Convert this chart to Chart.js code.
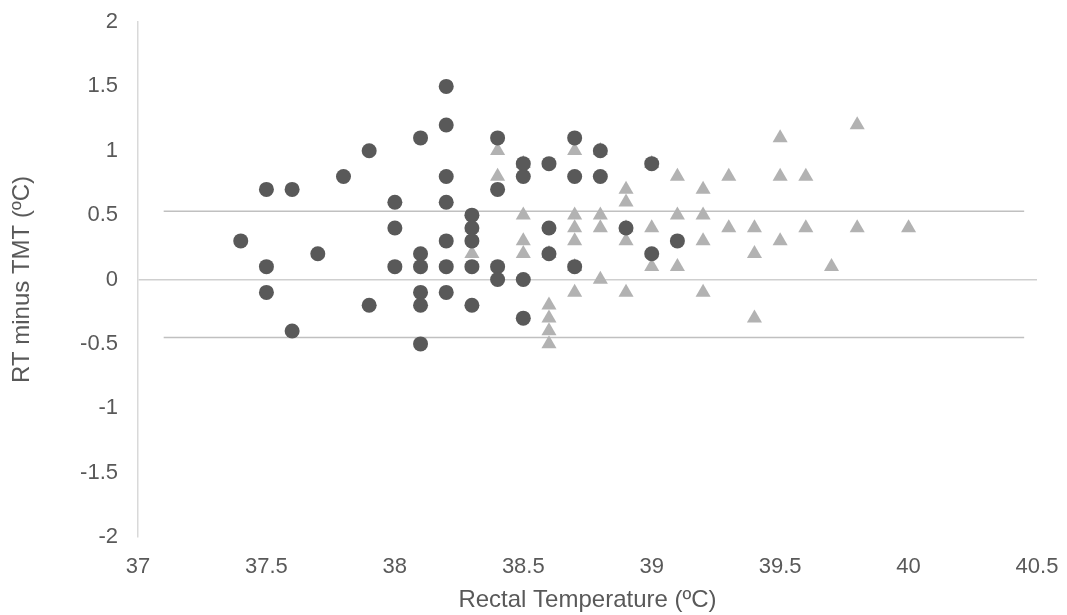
<!DOCTYPE html>
<html>
<head>
<meta charset="utf-8">
<script src="https://cdn.jsdelivr.net/npm/chart.js@4"></script>
<style>
  html, body { margin: 0; padding: 0; background: #fff; }
</style>
</head>
<body>
<canvas id="myChart" width="1067" height="615"></canvas>
<script>
// Rectal temperature (x) vs RT minus TMT (y)
var circleX = [37.4, 37.5, 37.5, 37.5, 37.6, 37.6, 37.7, 37.8, 37.9, 37.9,
    38.0, 38.0, 38.0, 38.1, 38.1, 38.1, 38.1, 38.1, 38.1,
    38.2, 38.2, 38.2, 38.2, 38.2, 38.2, 38.2,
    38.3, 38.3, 38.3, 38.3, 38.3, 38.4, 38.4, 38.4, 38.4,
    38.5, 38.5, 38.5, 38.5, 38.6, 38.6, 38.6, 38.7, 38.7, 38.7,
    38.8, 38.8, 38.9, 39.0, 39.0, 39.1];
var circleY = [0.3, 0.7, 0.1, -0.1, 0.7, -0.4, 0.2, 0.8, 1.0, -0.2,
    0.6, 0.4, 0.1, 1.1, 0.2, 0.1, -0.1, -0.2, -0.5,
    1.5, 1.2, 0.8, 0.6, 0.3, 0.1, -0.1,
    0.5, 0.4, 0.3, 0.1, -0.2, 1.1, 0.7, 0.1, 0.0,
    0.9, 0.8, 0.0, -0.3, 0.9, 0.4, 0.2, 1.1, 0.8, 0.1,
    1.0, 0.8, 0.4, 0.9, 0.2, 0.3];

var triangleX = [38.3, 38.3, 38.4, 38.4, 38.5, 38.5, 38.5, 38.5,
    38.6, 38.6, 38.6, 38.6, 38.6,
    38.7, 38.7, 38.7, 38.7, 38.7, 38.7,
    38.8, 38.8, 38.8, 38.8,
    38.9, 38.9, 38.9, 38.9, 38.9,
    39.0, 39.0, 39.0, 39.1, 39.1, 39.1,
    39.2, 39.2, 39.2, 39.2, 39.3, 39.3, 39.4, 39.4, 39.4,
    39.5, 39.5, 39.5, 39.6, 39.6, 39.7, 39.8, 39.8, 40.0];
var triangleY = [0.4, 0.2, 1.0, 0.8, 0.9, 0.5, 0.3, 0.2,
    0.2, -0.2, -0.3, -0.4, -0.5,
    1.0, 0.5, 0.4, 0.3, 0.1, -0.1,
    1.0, 0.5, 0.4, 0.0,
    0.7, 0.6, 0.4, 0.3, -0.1,
    0.9, 0.4, 0.1, 0.8, 0.5, 0.1,
    0.7, 0.5, 0.3, -0.1, 0.8, 0.4, 0.4, 0.2, -0.3,
    1.1, 0.8, 0.3, 0.8, 0.4, 0.1, 1.2, 0.4, 0.4];

// limits of agreement
var limitX = [37.1, 40.45];
var upperLimit = 0.53;
var lowerLimit = -0.45;

var xTicks = [37, 37.5, 38, 38.5, 39, 39.5, 40, 40.5];
var yTicks = [-2, -1.5, -1, -0.5, 0, 0.5, 1, 1.5, 2];

function pairs(xs, ys) {
    return xs.map(function (x, i) { return { x: x, y: ys[i] }; });
}

var textColor = '#595959';
var font = { family: '"Liberation Sans", Arial, sans-serif', size: 22 };
var titleFont = { family: '"Liberation Sans", Arial, sans-serif', size: 24 };

var data = {
    datasets: [{
        label: 'circles',
        data: pairs(circleX, circleY),
        pointStyle: 'circle',
        pointRadius: 7.5,
        backgroundColor: '#595959',
        borderColor: '#595959',
        borderWidth: 0
    }, {
        label: 'triangles',
        data: pairs(triangleX, triangleY),
        pointStyle: 'triangle',
        pointRadius: 8.7,
        backgroundColor: '#b2b2b2',
        borderColor: '#b2b2b2',
        borderWidth: 0
    }, {
        label: 'upper',
        data: pairs(limitX, [upperLimit, upperLimit]),
        showLine: true,
        pointRadius: 0,
        borderColor: '#c0c0c0',
        borderWidth: 1.5
    }, {
        label: 'lower',
        data: pairs(limitX, [lowerLimit, lowerLimit]),
        showLine: true,
        pointRadius: 0,
        borderColor: '#c0c0c0',
        borderWidth: 1.5
    }]
};

var options = {
    responsive: false,
    animation: false,
    layout: { padding: { left: 0, right: 30, top: 22, bottom: 0 } },
    plugins: { legend: { display: false }, tooltip: { enabled: false } },
    scales: {
        x: {
            type: 'linear',
            min: xTicks[0],
            max: xTicks[xTicks.length - 1],
            afterBuildTicks: function (scale) {
                scale.ticks = xTicks.map(function (v) { return { value: v }; });
            },
            afterFit: function (scale) {
                scale.height = 78;
                scale.paddingLeft = 0;
                scale.paddingRight = 0;
            },
            border: { display: false },
            grid: { display: false, drawTicks: false },
            ticks: {
                color: textColor,
                font: font,
                padding: 17,
                maxRotation: 0,
                callback: function (v) { return String(Math.round(v * 10) / 10); }
            },
            title: {
                display: true,
                text: 'Rectal Temperature (ºC)',
                color: textColor,
                font: titleFont,
                padding: { top: 0, bottom: 0 }
            }
        },
        y: {
            type: 'linear',
            min: yTicks[0],
            max: yTicks[yTicks.length - 1],
            afterBuildTicks: function (scale) {
                scale.ticks = yTicks.map(function (v) { return { value: v }; });
            },
            afterFit: function (scale) {
                scale.width = 138;
                scale.paddingTop = 0;
                scale.paddingBottom = 0;
            },
            border: { display: true, color: '#d9d9d9', width: 1.5 },
            grid: {
                drawTicks: false,
                lineWidth: 1.5,
                color: function (ctx) {
                    return ctx.tick && ctx.tick.value === 0 ? '#cfcfcf' : 'rgba(0,0,0,0)';
                }
            },
            ticks: {
                color: textColor,
                font: font,
                padding: 20,
                callback: function (v) { return String(Math.round(v * 10) / 10); }
            },
            title: {
                display: true,
                text: 'RT minus TMT (ºC)',
                color: textColor,
                font: titleFont,
                padding: { top: 8, bottom: 0 }
            }
        }
    }
};

var ctx = document.getElementById('myChart').getContext('2d');
var myChart = new Chart(ctx, { type: 'scatter', data: data, options: options });
</script>
</body>
</html>
